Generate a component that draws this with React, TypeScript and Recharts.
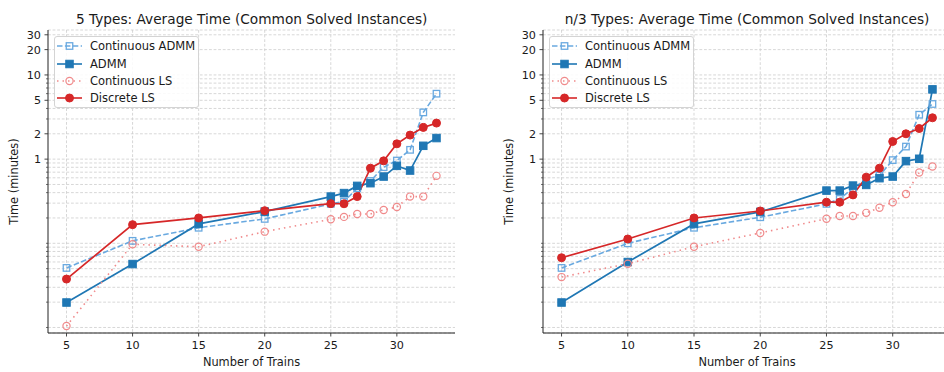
import React from 'react';
import { LineChart, Line, XAxis, YAxis, CartesianGrid, Legend, Label } from 'recharts';

// Number of trains (shared x values)
const trains = [5, 10, 15, 20, 25, 26, 27, 28, 29, 30, 31, 32, 33];

// 5 types: average time in minutes
const fiveContAdmm = [0.051, 0.107, 0.153, 0.195, 0.294, 0.313, 0.45, 0.55, 0.803, 0.962, 1.29, 3.59, 5.99];
const fiveAdmm = [0.0198, 0.0567, 0.17, 0.238, 0.359, 0.395, 0.481, 0.518, 0.621, 0.832, 0.732, 1.44, 1.78];
const fiveContLs = [0.0104, 0.0973, 0.0911, 0.1375, 0.193, 0.206, 0.223, 0.223, 0.249, 0.27, 0.359, 0.359, 0.633];
const fiveDiscLs = [0.0376, 0.1666, 0.2, 0.244, 0.296, 0.295, 0.359, 0.781, 0.954, 1.52, 1.93, 2.38, 2.68];

// n/3 types: average time in minutes
const nContAdmm = [0.051, 0.1, 0.153, 0.204, 0.294, 0.337, 0.45, 0.58, 0.638, 0.973, 1.41, 3.37, 4.52];
const nAdmm = [0.0198, 0.0599, 0.17, 0.236, 0.423, 0.423, 0.485, 0.494, 0.594, 0.621, 0.947, 1.01, 6.74];
const nContLs = [0.0397, 0.0572, 0.0911, 0.1327, 0.196, 0.211, 0.211, 0.23, 0.265, 0.308, 0.386, 0.693, 0.817];
const nDiscLs = [0.0674, 0.1125, 0.2, 0.242, 0.308, 0.308, 0.376, 0.61, 0.781, 1.62, 2.0, 2.31, 3.1];

// Axis ticks
const xTicks = [5, 10, 15, 20, 25, 30];
const yMajorTicks = [1, 2, 5, 10, 20, 30];
const yMinorTicks = [
  0.01, 0.02, 0.03, 0.04, 0.05, 0.06, 0.07, 0.08, 0.09,
  0.1, 0.2, 0.3, 0.4, 0.5, 0.6, 0.7, 0.8, 0.9,
  3, 4, 6, 7, 8, 9,
];
const yTicks = [...yMinorTicks, ...yMajorTicks].sort((a, b) => a - b);

const FONT = '"DejaVu Sans", sans-serif';
const TEXT = '#1a1a1a';
const BLUE = '#1f77b4';
const LIGHT_BLUE = '#69a9e0';
const RED = '#d62728';
const LIGHT_RED = '#f08a8b';

const seriesDefs = [
  { key: 'contAdmm', name: 'Continuous ADMM', color: LIGHT_BLUE, dash: '5.5 2.4', marker: 'square', filled: false },
  { key: 'admm', name: 'ADMM', color: BLUE, dash: undefined, marker: 'square', filled: true },
  { key: 'contLs', name: 'Continuous LS', color: LIGHT_RED, dash: '1.5 4', marker: 'circle', filled: false },
  { key: 'discLs', name: 'Discrete LS', color: RED, dash: undefined, marker: 'circle', filled: true },
];

function buildRows(contAdmm: number[], admm: number[], contLs: number[], discLs: number[]) {
  return trains.map((t, i) => ({ trains: t, contAdmm: contAdmm[i], admm: admm[i], contLs: contLs[i], discLs: discLs[i] }));
}

function Marker({ cx, cy, marker, filled, color }: any) {
  if (cx == null || cy == null) return null;
  if (marker === 'square') {
    const s = filled ? 7.5 : 6.5;
    return (
      <rect x={cx - s / 2} y={cy - s / 2} width={s} height={s}
        fill={filled ? color : 'none'} stroke={color} strokeWidth={filled ? 1 : 1.3} />
    );
  }
  const r = filled ? 4 : 3.6;
  return <circle cx={cx} cy={cy} r={r} fill={filled ? color : 'none'} stroke={color} strokeWidth={filled ? 1 : 1.2} />;
}

function YTick({ x, y, payload }: any) {
  const major = yMajorTicks.includes(payload.value);
  return (
    <g>
      <line x1={x - (major ? 3.5 : 2)} x2={x} y1={y} y2={y} stroke="#333" strokeWidth={major ? 0.9 : 0.7} />
      {major && (
        <text x={x - 7} y={y} dy="0.36em" textAnchor="end" fontFamily={FONT} fontSize={11.2} fill={TEXT}>
          {payload.value}
        </text>
      )}
    </g>
  );
}

function XTick({ x, y, payload }: any) {
  return (
    <g>
      <line x1={x} x2={x} y1={y} y2={y + 3.5} stroke="#333" strokeWidth={0.9} />
      <text x={x} y={y + 7} dy="0.8em" textAnchor="middle" fontFamily={FONT} fontSize={11.2} fill={TEXT}>
        {payload.value}
      </text>
    </g>
  );
}

function LegendBox() {
  return (
    <div style={{
      position: 'relative', width: 145, height: 72, boxSizing: 'border-box',
      border: '1px solid #d4d4d4', borderRadius: 3, background: 'rgba(255,255,255,0.85)',
    }}>
      {seriesDefs.map((s, i) => (
        <div key={s.key} style={{ position: 'absolute', left: 0, top: 9.4 + i * 17.2 - 8, height: 16, display: 'flex', alignItems: 'center' }}>
          <svg width={32} height={16} style={{ display: 'block' }}>
            <line x1={2} x2={27} y1={8} y2={8} stroke={s.color} strokeWidth={1.6} strokeDasharray={s.dash} />
            <Marker cx={14.5} cy={8} marker={s.marker} filled={s.filled} color={s.color} />
          </svg>
          <span style={{ marginLeft: 3, fontFamily: FONT, fontSize: 11.5, color: TEXT, whiteSpace: 'nowrap' }}>{s.name}</span>
        </div>
      ))}
    </div>
  );
}

function YLabel({ viewBox }: any) {
  const x = viewBox.x + 6;
  const y = viewBox.y + viewBox.height / 2;
  return (
    <text x={x} y={y} transform={`rotate(-90 ${x} ${y})`} textAnchor="middle" dy="0.35em"
      fontFamily={FONT} fontSize={11.4} fill={TEXT}>
      Time (minutes)
    </text>
  );
}

function XLabel({ viewBox }: any) {
  const x = viewBox.x + viewBox.width / 2;
  return (
    <text x={x} y={362.5} textAnchor="middle" dy="0.35em" fontFamily={FONT} fontSize={11.4} fill={TEXT}>
      Number of Trains
    </text>
  );
}

function Panel({ data, width, marginLeft, marginRight, legendLeft }: any) {
  return (
    <LineChart width={width} height={372} data={data}
      margin={{ top: 30, right: marginRight, bottom: 14, left: marginLeft }}>
      <CartesianGrid stroke="#cdcdcd" strokeWidth={0.8} strokeDasharray="2.8 1.8" verticalValues={xTicks} />
      <XAxis dataKey="trains" type="number" domain={[3.6, 34.4]} ticks={xTicks} allowDataOverflow
        height={25} tickSize={0} tickMargin={0} tickLine={false} tick={<XTick />}
        axisLine={{ stroke: '#222', strokeWidth: 1 }}>
        <Label content={<XLabel />} />
      </XAxis>
      <XAxis xAxisId="top" orientation="top" type="number" domain={[0, 1]} height={0}
        tick={false} tickLine={false} axisLine={{ stroke: '#222', strokeWidth: 1 }} />
      <YAxis type="number" scale="log" domain={[0.0086, 34.2]} ticks={yTicks} allowDataOverflow
        width={40} tickSize={0} tickMargin={0} tickLine={false} tick={<YTick />} interval={0}
        axisLine={{ stroke: '#222', strokeWidth: 1 }}>
        <Label content={<YLabel />} />
      </YAxis>
      <YAxis yAxisId="right" orientation="right" type="number" domain={[0, 1]} width={0}
        tick={false} tickLine={false} axisLine={{ stroke: '#222', strokeWidth: 1 }} />
      {seriesDefs.map((s) => (
        <Line key={s.key} dataKey={s.key} name={s.name} type="linear" stroke={s.color}
          strokeWidth={s.filled ? 1.7 : 1.6} strokeDasharray={s.dash} isAnimationActive={false}
          activeDot={false}
          dot={(p: any) => <Marker key={`${s.key}-${p.index}`} cx={p.cx} cy={p.cy} marker={s.marker} filled={s.filled} color={s.color} />} />
      ))}
      <Legend layout="vertical" align="center" verticalAlign="middle" content={<LegendBox />}
        wrapperStyle={{ position: 'absolute', left: legendLeft, top: 36, width: 145, height: 72 }} />
    </LineChart>
  );
}

function Title({ children, center }: any) {
  return (
    <div style={{
      position: 'absolute', left: center - 250, width: 500, top: 10, textAlign: 'center',
      fontFamily: FONT, fontSize: 13.7, color: TEXT, lineHeight: '18px', whiteSpace: 'nowrap',
    }}>{children}</div>
  );
}

const fiveRows = buildRows(fiveContAdmm, fiveAdmm, fiveContLs, fiveDiscLs);
const nRows = buildRows(nContAdmm, nAdmm, nContLs, nDiscLs);

export default function App() {
  return (
    <div style={{ position: 'absolute', left: 0, top: 0, width: 944, height: 372, overflow: 'hidden', background: '#fff' }}>
      <div style={{ position: 'absolute', left: 0, top: 0 }}>
        <Panel data={fiveRows} width={472} marginLeft={8} marginRight={17} legendLeft={54} />
      </div>
      <Title center={251.7}>5 Types: Average Time (Common Solved Instances)</Title>
      <div style={{ position: 'absolute', left: 472, top: 0 }}>
        <Panel data={nRows} width={500} marginLeft={31} marginRight={21} legendLeft={77} />
      </div>
      <Title center={747}>n/3 Types: Average Time (Common Solved Instances)</Title>
    </div>
  );
}
